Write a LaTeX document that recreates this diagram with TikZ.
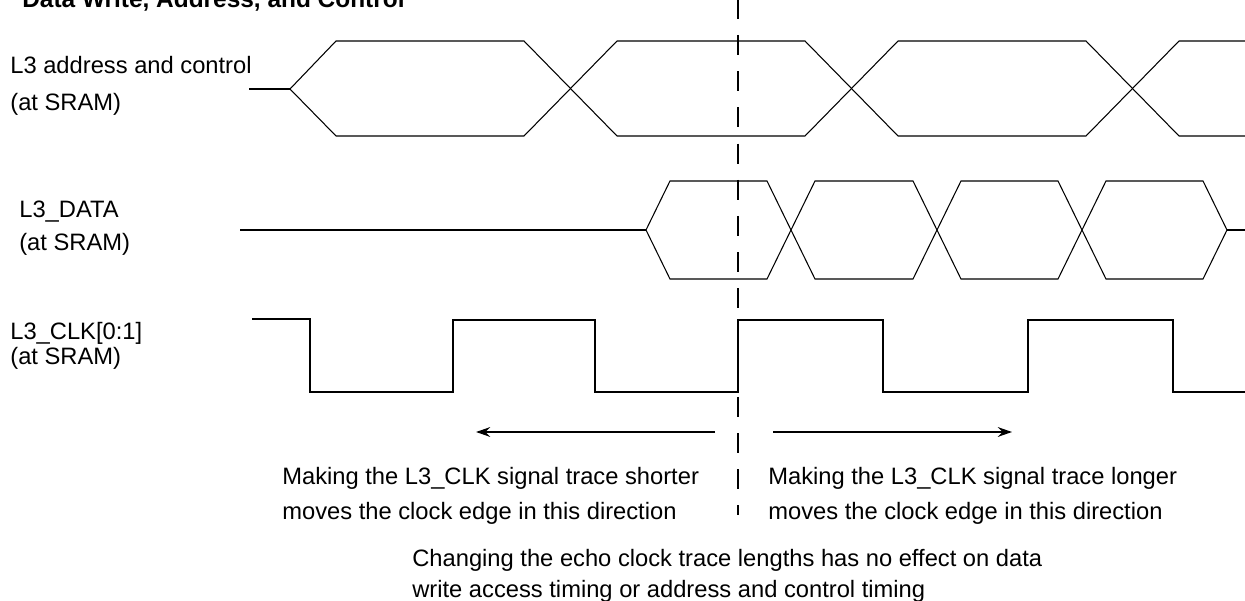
\documentclass[tikz,border=0pt]{standalone}
\usepackage{fontspec}
\setmainfont{Liberation Sans}
\usetikzlibrary{arrows.meta}
\begin{document}
\begin{tikzpicture}[x=0.02cm, y=-0.02cm, every node/.style={font=\fontsize{13.5}{16}\selectfont, inner sep=0pt, anchor=base west}, wave/.style={line width=0.6pt}, stub/.style={line width=1.2pt}, clkline/.style={line width=1.3pt}, edgeline/.style={line width=1.2pt, dash pattern={on 0.4cm off 0.324cm}}, shiftarrow/.style={line width=1.2pt, -{Stealth[length=8pt, width=5.5pt]}}]
\useasboundingbox (0,0) rectangle (1245,601);
\node[font=\bfseries\fontsize{13.9}{16}\selectfont] (title) at (22,8) {Data Write, Address, and Control};
% signal names
\node (adr) at (10,74) {L3 address and control};
\node (adrsram) at (10,111) {(at SRAM)};
\node (dat) at (19,218) {L3\_DATA};
\node (datsram) at (19,251) {(at SRAM)};
\node (clk) at (10,339) {L3\_CLK[0:1]};
\node (clksram) at (10,365) {(at SRAM)};
% address and control
\draw[stub] (249,89) -- (290,89);
\draw[wave] (290,89) -- (336,41) -- (524,41) -- (617,136) -- (805,136) -- (898,41) -- (1086,41) -- (1179,136) -- (1245,136);
\draw[wave] (290,89) -- (336,136) -- (524,136) -- (617,41) -- (805,41) -- (898,136) -- (1086,136) -- (1179,41) -- (1245,41);
% data
\draw[stub] (240,230) -- (646,230);
\draw[wave] (646,230) -- (670,181) -- (767,181) -- (815,279) -- (913,279) -- (961,181) -- (1058,181) -- (1106,279) -- (1203,279) -- (1227,230);
\draw[wave] (646,230) -- (670,279) -- (767,279) -- (815,181) -- (913,181) -- (961,279) -- (1058,279) -- (1106,181) -- (1203,181) -- (1227,230);
\draw[stub] (1227,230) -- (1245,230);
% clock
\draw[clkline] (252,319) -- (310,319) -- (310,392) -- (453,392) -- (453,320) -- (595,320) -- (595,392) -- (738,392) -- (738,320) -- (883,320) -- (883,392) -- (1028,392) -- (1028,320) -- (1173,320) -- (1173,392) -- (1245,392);
% clock edge reference
\coordinate (edgetop) at (738,-1.2);
\coordinate (edgebot) at (738,515);
\draw[edgeline] (edgetop) -- (edgebot);
\coordinate (shortfrom) at (715,432);
\coordinate (shortto) at (476,432);
\coordinate (longfrom) at (773,432);
\coordinate (longto) at (1012,432);
\draw[shiftarrow] (shortfrom) -- (shortto);
\draw[shiftarrow] (longfrom) -- (longto);
\node (short1) at (282,484) {Making the L3\_CLK signal trace shorter};
\node (short2) at (282,519) {moves the clock edge in this direction};
\node (long1) at (768,484) {Making the L3\_CLK signal trace longer};
\node (long2) at (768,519) {moves the clock edge in this direction};
\node (note1) at (412,566) {Changing the echo clock trace lengths has no effect on data};
\node (note2) at (412,597) {write access timing or address and control timing};
\end{tikzpicture}
\end{document}
